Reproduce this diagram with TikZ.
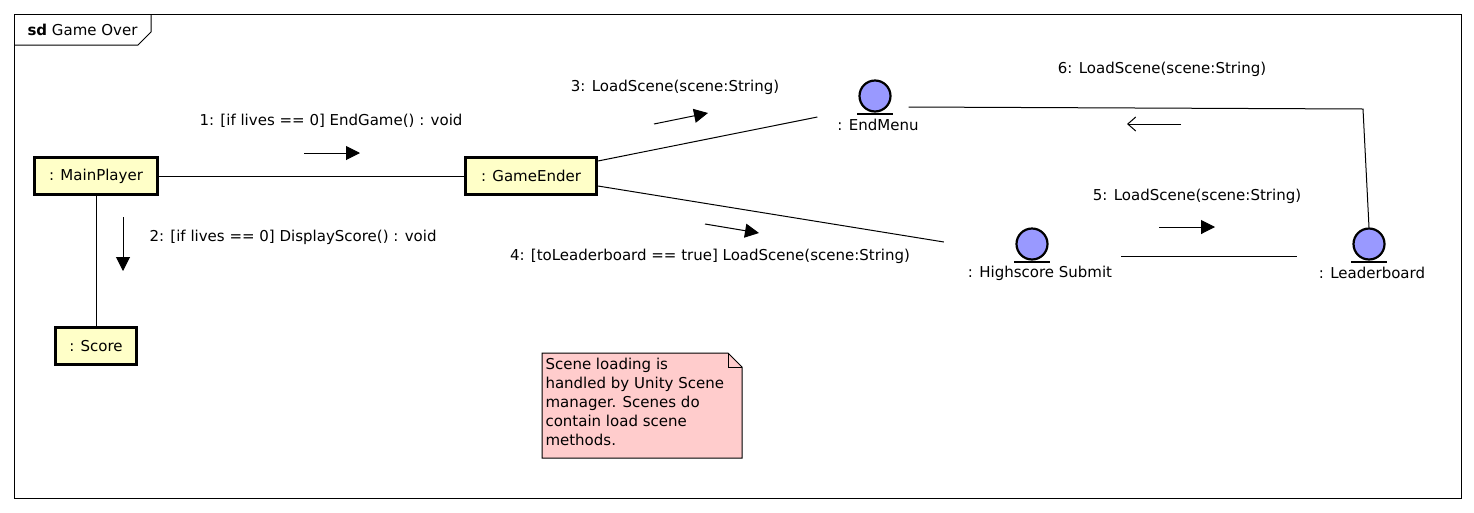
\documentclass[tikz,border=0pt]{standalone}
\usepackage{fontspec}
\setmainfont{DejaVu Sans}
\usepackage{tikz}
\usetikzlibrary{arrows.meta}
\definecolor{objfill}{RGB}{255,255,200}
\definecolor{entfill}{RGB}{153,153,255}
\definecolor{notefill}{RGB}{255,204,204}

\begin{document}
\begin{tikzpicture}
[ x=1pt, y=-1pt, line width=1pt, font=\fontsize{15}{19}\selectfont
, object/.style={rectangle, draw, line width=3pt, fill=objfill, minimum height=37pt, inner sep=0pt}
, entity/.style={circle, draw, line width=2.2pt, fill=entfill, minimum size=31pt, inner sep=0pt}
, caption/.style={inner sep=0pt}
, msg/.style={inner sep=0pt}
, flow/.style={-{Triangle[length=14pt,width=14pt]}}
, reply/.style={-{Straight Barb[length=8pt,width=14pt]}}
, bar/.style={line width=2pt}
]
\useasboundingbox (0,0) rectangle (1474,512);
% Frame:
\draw (14,14) rectangle (1461,498);
\draw (14,45) -- (138,45) -- (151,32) -- (151,14);
\node (frameL) [caption, anchor=west] at (27,30) {\textbf{sd} Game Over};
% Objects:
\node (player) [object, minimum width=123pt] at (96,176) {: MainPlayer};
\node (score) [object, minimum width=81pt] at (96,346) {: Score};
\node (ender) [object, minimum width=131pt] at (531,176) {: GameEnder};
% Entities:
\node (endmenu) [entity] at (875,96) {};
\node (endmenuL) [caption] at (878,125) {: EndMenu};
\node (submit) [entity] at (1032,244) {};
\node (submitL) [caption] at (1040,273) {: Highscore Submit};
\node (board) [entity] at (1369,244) {};
\node (boardL) [caption] at (1372,273) {: Leaderboard};
\draw [bar] ([xshift=-18pt,yshift=-1.5pt]endmenu.south) -- ([xshift=18pt,yshift=-1.5pt]endmenu.south);
\draw [bar] ([xshift=-18pt,yshift=-1.5pt]submit.south) -- ([xshift=18pt,yshift=-1.5pt]submit.south);
\draw [bar] ([xshift=-18pt,yshift=-1.5pt]board.south) -- ([xshift=18pt,yshift=-1.5pt]board.south);
% Links:
\coordinate (bend) at (1363,109);
\draw (player) -- (ender);
\draw (player) -- (score);
\draw ([yshift=15pt]ender.east) -- ([xshift=-41pt,yshift=-21pt]endmenu.west);
\draw ([yshift=-10pt]ender.east) -- ([xshift=-71.5pt,yshift=2pt]submit.west);
\draw ([xshift=72.5pt,yshift=-12pt]submit.east) -- ([xshift=-55.5pt,yshift=-12pt]board.west);
\draw ([xshift=17pt,yshift=-11pt]endmenu.east) -- (bend) -- (board.north);
% Messages:
\coordinate (m1) at (304,153);
\coordinate (m2) at (123,217);
\coordinate (m3) at (654,124);
\coordinate (m4) at (705,224);
\coordinate (m5) at (1159,227);
\coordinate (m6) at (1181,124);
\draw [flow] (m1) -- ++(56,0);
\draw [flow] (m2) -- ++(0,54);
\draw [flow] (m3) -- ++(54,-11);
\draw [flow] (m4) -- ++(54,9);
\draw [flow] (m5) -- ++(56,0);
\draw [reply] (m6) -- ++(-54,0);
\node (m1L) [msg] at (331,121) {1: [if lives == 0] EndGame() : void};
\node (m2L) [msg, anchor=west] at (149,237) {2: [if lives == 0] DisplayScore() : void};
\node (m3L) [msg] at (675,87) {3: LoadScene(scene:String)};
\node (m4L) [msg] at (710,256) {4: [toLeaderboard == true] LoadScene(scene:String)};
\node (m5L) [msg] at (1197,196) {5: LoadScene(scene:String)};
\node (m6L) [msg] at (1162,69) {6: LoadScene(scene:String)};
% Note:
\draw [fill=notefill] (542,353) -- (728,353) -- (742,367) -- (742,458) -- (542,458) -- cycle;
\draw (728,353) -- (728,367) -- (742,367);
\node (note) [caption, anchor=north west, align=left] at (545,358)
  {Scene loading is\\handled by Unity Scene\\manager. Scenes do\\contain load scene\\methods.};
\end{tikzpicture}
\end{document}
